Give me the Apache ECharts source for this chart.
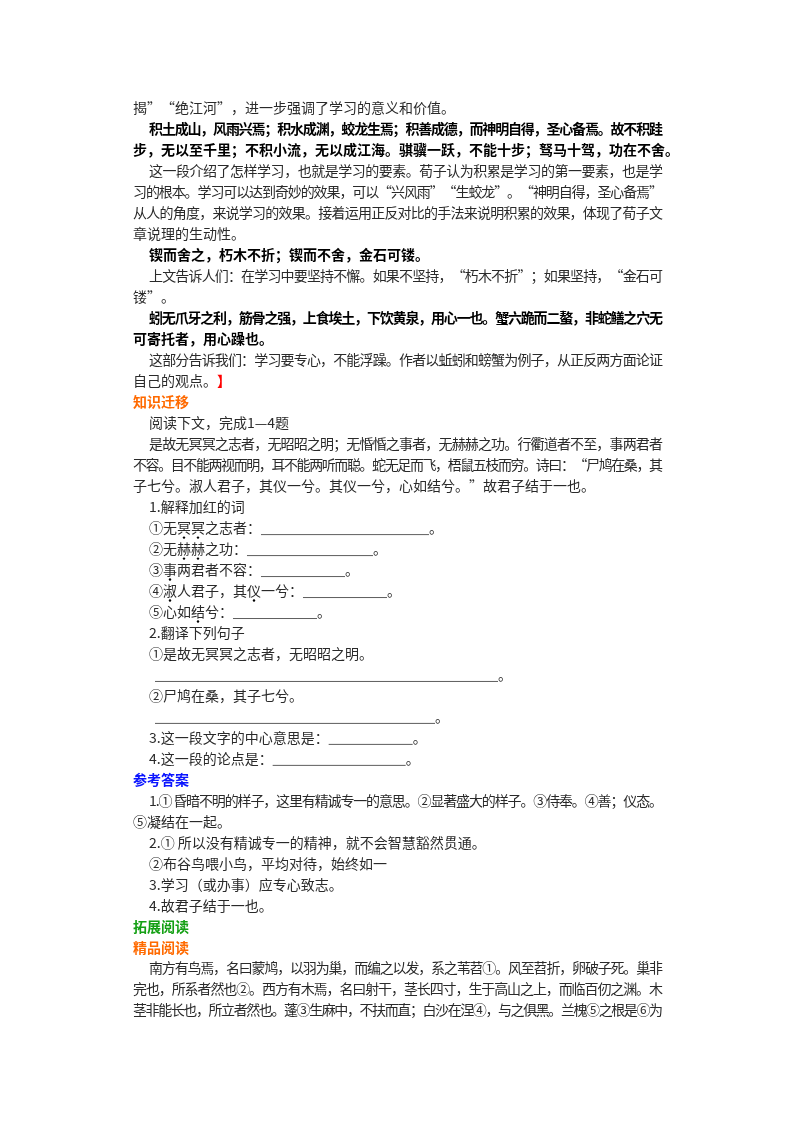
<!DOCTYPE html>
<html><head><meta charset="utf-8">
<script src="https://cdn.jsdelivr.net/npm/echarts@6/dist/echarts.min.js"></script>
<style>html,body{margin:0;padding:0;background:#fff}#c{width:800px;height:1132px}</style>
</head><body><div id="c"></div>
<script>
// text lines of the page
const lines = [
  "揭”“绝江河”，进一步强调了学习的意义和价值。",
  "积土成山，风雨兴焉；积水成渊，蛟龙生焉；积善成德，而神明自得，圣心备焉。故不积跬",
  "步，无以至千里；不积小流，无以成江海。骐骥一跃，不能十步；驽马十驾，功在不舍。",
  "这一段介绍了怎样学习，也就是学习的要素。荀子认为积累是学习的第一要素，也是学",
  "习的根本。学习可以达到奇妙的效果，可以“兴风雨”“生蛟龙”。“神明自得，圣心备焉”",
  "从人的角度，来说学习的效果。接着运用正反对比的手法来说明积累的效果，体现了荀子文",
  "章说理的生动性。",
  "锲而舍之，朽木不折；锲而不舍，金石可镂。",
  "上文告诉人们：在学习中要坚持不懈。如果不坚持，“朽木不折”；如果坚持，“金石可",
  "镂”。",
  "蚓无爪牙之利，筋骨之强，上食埃土，下饮黄泉，用心一也。蟹六跪而二螯，非蛇鳝之穴无",
  "可寄托者，用心躁也。",
  "这部分告诉我们：学习要专心，不能浮躁。作者以蚯蚓和螃蟹为例子，从正反两方面论证",
  "自己的观点。】",
  "知识迁移",
  "阅读下文，完成1—4题",
  "是故无冥冥之志者，无昭昭之明；无惛惛之事者，无赫赫之功。行衢道者不至，事两君者",
  "不容。目不能两视而明，耳不能两听而聪。蛇无足而飞，梧鼠五枝而穷。诗曰：“尸鸠在桑，其",
  "子七兮。淑人君子，其仪一兮。其仪一兮，心如结兮。”故君子结于一也。",
  "1.解释加红的词",
  "①无冥冥之志者：________________________。",
  "②无赫赫之功：__________________。",
  "③事两君者不容：____________。",
  "④淑人君子，其仪一兮：____________。",
  "⑤心如结兮：____________。",
  "2.翻译下列句子",
  "①是故无冥冥之志者，无昭昭之明。",
  "_________________________________________________。",
  "②尸鸠在桑，其子七兮。",
  "________________________________________。",
  "3.这一段文字的中心意思是：____________。",
  "4.这一段的论点是：___________________。",
  "参考答案",
  "1.① 昏暗不明的样子，这里有精诚专一的意思。②显著盛大的样子。③侍奉。④善；仪态。",
  "⑤凝结在一起。",
  "2.① 所以没有精诚专一的精神，就不会智慧豁然贯通。",
  "②布谷鸟喂小鸟，平均对待，始终如一",
  "3.学习（或办事）应专心致志。",
  "4.故君子结于一也。",
  "拓展阅读",
  "精品阅读",
  "南方有鸟焉，名曰蒙鸠，以羽为巢，而编之以发，系之苇苕①。风至苕折，卵破子死。巢非",
  "完也，所系者然也②。西方有木焉，名曰射干，茎长四寸，生于高山之上，而临百仞之渊。木",
  "茎非能长也，所立者然也。蓬③生麻中，不扶而直；白沙在涅④，与之俱黑。兰槐⑤之根是⑥为"
];
// line kinds: n normal, b bold, h1 orange heading, h2 blue heading, h3 green heading
const kinds = ["n","b","b","n","n","n","n","b","n","n","b","b","n","n","h1","n","n","n","n","n","n","n","n","n","n","n","n","n","n","n","n","n","h2","n","n","n","n","n","n","h3","h1","n","n","n"];
const indented = [1,3,7,8,10,12,15,16,19,20,21,22,23,24,25,26,27,28,29,30,31,33,35,36,37,38,41];
const justified = [1,3,4,5,8,10,12,16,17,33,41,42,43];
const emphasis = [[20,2],[20,3],[21,2],[21,3],[22,1],[23,1],[23,7],[24,3]];
const redChars = [[13,6]];

const FONT = '"Noto Sans CJK SC"';
const colors = {n:"#2a2a2a", b:"#000", h1:"#ff6a00", h2:"#0a14ff", h3:"#15a015"};
const cv = document.createElement('canvas').getContext('2d');
const L = 133, R = 663, TOP = 108, LH = 20.98, FS = 14;
const graphics = [];
lines.forEach((t, i) => {
  const k = kinds[i];
  const bold = k !== "n";
  const font = (bold ? "bold " : "") + FS + "px " + FONT;
  cv.font = font;
  const chars = Array.from(t);
  const ws = chars.map(c => c === "_" ? 7 : cv.measureText(c).width);
  let x0 = L + (indented.includes(i) ? 16 : 0);
  if (i === 27 || i === 29) x0 = 155;
  const total = ws.reduce((a, b) => a + b, 0);
  const gap = justified.includes(i) && chars.length > 1 ? (R - x0 - total) / (chars.length - 1) : 0;
  const y = TOP + LH * i;
  let x = x0;
  let runStart = null;
  chars.forEach((c, j) => {
    if (c === "_") {
      if (runStart === null) runStart = x;
      if (j + 1 >= chars.length || chars[j + 1] !== "_") {
        graphics.push({type:"line", shape:{x1:runStart, y1:y + 7, x2:x + ws[j], y2:y + 7}, style:{stroke:"#333", lineWidth:0.8}});
        runStart = null;
      }
    } else {
      const red = redChars.some(r => r[0] === i && r[1] === j);
      graphics.push({type:"text", x:x, y:y, style:{text:c, font: (red ? "bold " : "") === "" ? font : "bold " + FS + "px " + FONT, fill: red ? "#ff0000" : colors[k], verticalAlign:"middle"}});
      if (emphasis.some(e => e[0] === i && e[1] === j)) {
        graphics.push({type:"circle", shape:{cx:x + ws[j] / 2, cy:y + 10, r:1.2}, style:{fill:"#000"}});
      }
    }
    x += ws[j] + gap;
  });
});
const chart = echarts.init(document.getElementById('c'));
chart.setOption({backgroundColor:"#fff", animation:false, graphic:{elements:graphics}});
</script></body></html>
